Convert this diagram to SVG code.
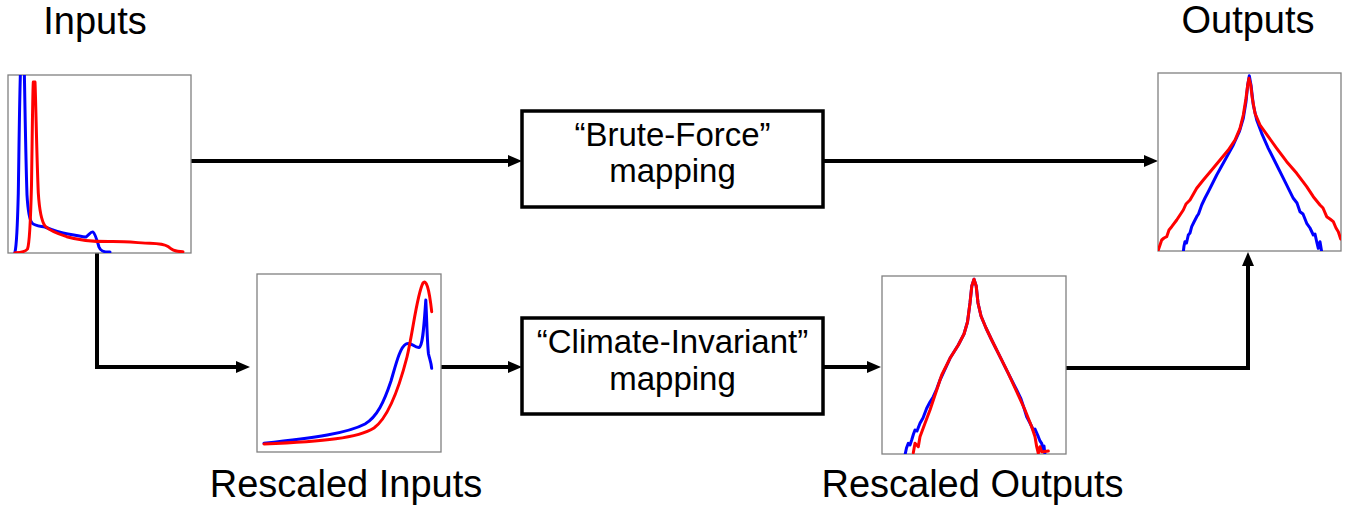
<svg xmlns="http://www.w3.org/2000/svg" width="1353" height="506" viewBox="0 0 1353 506">
  <style>
    .label { font-family: "Liberation Sans", Arial, sans-serif; font-size: 38px; fill: #000; text-anchor: middle; }
    .btext { font-family: "Liberation Sans", Arial, sans-serif; font-size: 33px; fill: #000; text-anchor: middle; }
    .frame { fill: #fff; stroke: #808080; stroke-width: 1.3; }
    .box { fill: #fff; stroke: #000; stroke-width: 3.5; }
    .blue { fill: none; stroke: #0000ff; stroke-width: 3; stroke-linejoin: round; stroke-linecap: round; }
    .red { fill: none; stroke: #ff0000; stroke-width: 3; stroke-linejoin: round; stroke-linecap: round; }
    .wire { fill: none; stroke: #000; stroke-width: 4; stroke-linejoin: miter; }
  </style>
  <defs>
    <marker id="arrow" markerWidth="14" markerHeight="12" refX="8" refY="6" orient="auto" markerUnits="userSpaceOnUse">
      <path d="M0,0 L14,6 L0,12 z" fill="#000"/>
    </marker>
    <clipPath id="clipInputs"><rect x="8" y="75" width="183" height="178"/></clipPath>
    <clipPath id="clipRescaledInputs"><rect x="257" y="274" width="184" height="178"/></clipPath>
    <clipPath id="clipRescaledOutputs"><rect x="882" y="276" width="184" height="178"/></clipPath>
    <clipPath id="clipOutputs"><rect x="1158" y="73" width="183" height="178"/></clipPath>
  </defs>

  <!-- connectors -->
  <g id="connectors">
    <path class="wire" d="M191 161 H516" marker-end="url(#arrow)"/>
    <path class="wire" d="M823 161 H1152" marker-end="url(#arrow)"/>
    <path class="wire" d="M97 253 V367 H244" marker-end="url(#arrow)"/>
    <path class="wire" d="M441 367 H516" marker-end="url(#arrow)"/>
    <path class="wire" d="M823 367 H875" marker-end="url(#arrow)"/>
    <path class="wire" d="M1066 368 H1248 V258" marker-end="url(#arrow)"/>
  </g>

  <!-- raw input distributions -->
  <g id="inputs">
    <text class="label" x="95" y="34">Inputs</text>
    <rect class="frame" x="8" y="75" width="183" height="178"/>
    <g clip-path="url(#clipInputs)">
      <path class="blue" d="M15,252 C16.5,246 17.5,225 18.3,193 C19,150 19.5,100 20.5,70 L24.3,70 C25,110 25.8,160 27,195 C28,212 29.5,220 32,223 C35,226 40,226 45,227 C52,230 60,233 68,234 C76,235 82,237 86,237 C89,235 91,231 93,232 C95,233 97,240 99,247 C100.5,251 103,252 110,252"/>
      <path class="red" d="M15,252.7 C20,252.5 25,252.5 27.5,249 C29.5,244 30.5,225 31.5,185 C32.2,140 32.6,95 33.3,82 L35,82 C35.8,100 36.8,160 38.3,193 C39.5,212 41.5,221 45,226 C50,231 57,233.5 66.7,236.7 C78,240 92,241.7 110,241.6 C125,241.3 140,243 150,243.3 C158,243.6 164,244 168,246.5 C171,249 174,251.7 183,251.7"/>
    </g>
  </g>

  <!-- rescaled input distributions -->
  <g id="rescaled-inputs">
    <rect class="frame" x="257" y="274" width="184" height="178"/>
    <g clip-path="url(#clipRescaledInputs)">
      <path class="blue" d="M264,443.3 C315,438 348,433 365,424 C377,417 384,402 391,381 C396,364 400,347 406,344 C411,341 414,348 419,347.5 C423,346 424,325 425.8,300 C426.8,320 427.3,345 428.5,354 C429.6,359 431,362 431.7,368.3"/>
      <path class="red" d="M264,444 C325,441.5 358,438 374,428 C389,417 399,388 407,357 C413,332 417,294 423,283 C426,279 429,287 431.7,311.7"/>
    </g>
    <text class="label" x="346" y="497">Rescaled Inputs</text>
  </g>

  <!-- brute-force mapping -->
  <g id="brute-force">
    <rect class="box" x="522" y="111" width="301" height="96"/>
    <text class="btext" x="672.5" y="146">“Brute-Force”</text>
    <text class="btext" x="672.5" y="182">mapping</text>
  </g>

  <!-- climate-invariant mapping -->
  <g id="climate-invariant">
    <rect class="box" x="522" y="318" width="301" height="96"/>
    <text class="btext" x="672.5" y="353">“Climate-Invariant”</text>
    <text class="btext" x="672.5" y="390">mapping</text>
  </g>

  <!-- rescaled output distributions -->
  <g id="rescaled-outputs">
    <rect class="frame" x="882" y="276" width="184" height="178"/>
    <g clip-path="url(#clipRescaledOutputs)">
      <polyline class="blue" points="905,455 906.5,448 908.3,443.3 910,445 911.7,440 913.5,434 915,430 917,431 920,423.3 923,418 926.7,408.3 930,402 933.3,396.7 936.7,389 940,380 950,358.3 958.3,345 964,334 967.5,322 970,303 971.8,286 974,279.3 976.2,286 978,303 981,316 986,328 991.7,340 1000,356.7 1008.3,373.3 1016.7,390 1021,399 1024,408 1026.7,416.7 1030,423 1033.3,430 1035,429 1038.3,436.7 1040,441 1041.7,443.3 1042.5,449 1043.3,450 1044,446 1045,455"/>
      <polyline class="red" points="913.3,452.7 915,443.3 918.3,446.7 920,436.7 925,423.3 930,410 936.7,390 941.7,375 950,358.3 958.3,345 964,334 967.5,322 970,303 971.8,286 974,279.3 976.2,286 978,303 981,316 986,328 991.7,340 1000,356.7 1008.3,373.3 1016.7,391.7 1025,410 1031.7,426.7 1035,436.7 1036.7,446.7 1038.3,453.3 1040,446.7 1041.7,451.7 1043.3,451.7 1048.3,451"/>
    </g>
    <text class="label" x="972.5" y="497">Rescaled Outputs</text>
  </g>

  <!-- output distributions -->
  <g id="outputs">
    <text class="label" x="1248" y="33">Outputs</text>
    <rect class="frame" x="1158" y="73" width="183" height="178"/>
    <g clip-path="url(#clipOutputs)">
      <polyline class="blue" points="1183.3,252 1184,246 1185,241.7 1186.5,243 1188.3,235 1190,233 1191.7,226.7 1194,222 1196.7,216.7 1198.5,214 1201.7,205 1205,198 1208.3,191.7 1216.7,175 1225,160 1233.3,145 1239.3,131.7 1243.3,118.3 1246,101.7 1247.7,85 1249.3,75.7 1251,85 1253.3,105 1256.7,120 1261.7,133.3 1268.3,148.3 1276.7,165 1285,181.7 1293.3,198.3 1297,203 1300,211.7 1303,214 1306.7,223.3 1310,228 1313.3,235 1315,234 1316.7,241.7 1318.3,248.3 1320,241.7 1321.7,252"/>
      <polyline class="red" points="1158.3,250 1161.7,240 1164,238 1166.7,236.7 1169,230 1171.7,226.7 1176.7,220 1183.3,210 1186,204 1190,200 1196.7,188.3 1203.3,180 1211.7,170 1220,160 1228.3,150 1235,140 1240,128.3 1243.3,115 1246,98.3 1247.7,85 1249,78.3 1250.7,85 1252.3,98.3 1255,113.3 1260,125 1268.3,136.7 1276.7,148.3 1286.7,161.7 1296.7,173.3 1306.7,186.7 1313.3,196.7 1320,205 1323,208 1326.7,216.7 1330,219 1333.3,221.7 1336,228 1338.3,231.7 1340.7,239"/>
    </g>
  </g>
</svg>
